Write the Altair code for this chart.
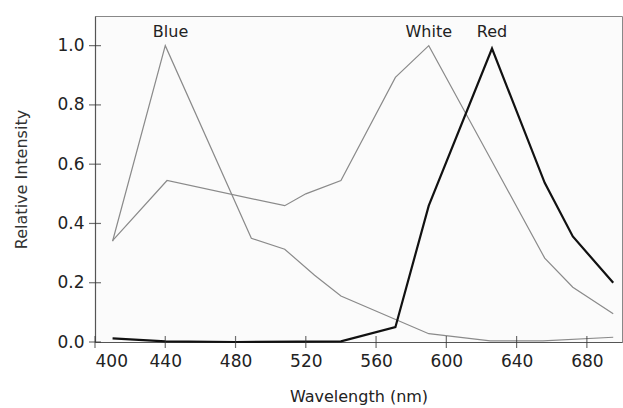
import altair as alt
import pandas as pd

# Series data (wavelength nm, relative intensity)
blue_wl = [410, 440, 489, 508, 525, 540, 590, 625, 655, 695]
blue_val = [0.34, 1.0, 0.35, 0.313, 0.225, 0.155, 0.028, 0.004, 0.004, 0.016]

white_wl = [410, 441, 508, 520, 540, 571, 590, 625, 656, 672, 695]
white_val = [0.342, 0.545, 0.46, 0.5, 0.545, 0.893, 1.0, 0.62, 0.283, 0.185, 0.095]

red_wl = [410, 440, 480, 540, 571, 590, 626, 656, 672, 695]
red_val = [0.012, 0.002, 0.0, 0.002, 0.05, 0.46, 0.99, 0.537, 0.356, 0.2]

x_ticks = [400, 440, 480, 520, 560, 600, 640, 680]
y_ticks = [0.0, 0.2, 0.4, 0.6, 0.8, 1.0]

label_names = ["Blue", "White", "Red"]
label_wl = [443, 590, 626]
label_val = [1.0, 1.0, 1.0]

FONT = "DejaVu Sans"

rows = []
for name, wl, val in [("Blue", blue_wl, blue_val), ("White", white_wl, white_val), ("Red", red_wl, red_val)]:
    for w, v in zip(wl, val):
        rows.append({"series": name, "wl": w, "val": v})
df = pd.DataFrame(rows)

xs = alt.Scale(domain=[400, 700], nice=False, zero=False)
ys = alt.Scale(domain=[0, 1.1], nice=False)

xax = alt.Axis(values=x_ticks, ticks=False, grid=False, domainColor="#555", domainWidth=1.2,
               labelFont=FONT, labelFontSize=17, labelColor="#222", labelPadding=11,
               title="Wavelength (nm)", titleFont=FONT, titleFontSize=16, titleFontWeight="normal",
               titleColor="#222", titlePadding=19)
yax = alt.Axis(values=y_ticks, format=".1f", ticks=False, grid=False, domainColor="#555", domainWidth=1.2,
               labelFont=FONT, labelFontSize=17, labelColor="#222", labelPadding=11,
               title="Relative Intensity", titleFont=FONT, titleFontSize=16, titleFontWeight="normal",
               titleColor="#333", titlePadding=27)

base = alt.Chart(df)

thin = base.transform_filter(alt.datum.series != "Red").mark_line(color="#8a8a8a", strokeWidth=1.2).encode(
    x=alt.X("wl:Q", scale=xs, axis=xax),
    y=alt.Y("val:Q", scale=ys, axis=yax),
    detail="series:N",
)
red = base.transform_filter(alt.datum.series == "Red").mark_line(color="#111", strokeWidth=2.2).encode(
    x=alt.X("wl:Q", scale=xs),
    y=alt.Y("val:Q", scale=ys),
)

lab_df = pd.DataFrame({"name": label_names, "wl": label_wl, "val": label_val})
labels = alt.Chart(lab_df).mark_text(font=FONT, fontSize=16, color="#222", dy=-14, baseline="middle").encode(
    x=alt.X("wl:Q", scale=xs),
    y=alt.Y("val:Q", scale=ys),
    text="name:N",
)

xt_df = pd.DataFrame({"t": x_ticks})
xticks = alt.Chart(xt_df).mark_tick(color="#333", thickness=1.2, size=12, orient="vertical").encode(
    x=alt.X("t:Q", scale=xs),
    y=alt.value(326),
)
yt_df = pd.DataFrame({"t": y_ticks})
yticks = alt.Chart(yt_df).mark_tick(color="#333", thickness=1.2, size=12, orient="horizontal").encode(
    y=alt.Y("t:Q", scale=ys),
    x=alt.value(0),
)

chart = alt.layer(thin, red, labels, xticks, yticks).properties(
    width=527, height=326,
    autosize=alt.AutoSizeParams(type="none"),
    padding={"left": 95, "top": 16, "right": 1, "bottom": 66},
    background="white",
).configure_view(fill="#fbfbfb", stroke="#888", strokeWidth=1)

chart.save("out.html", embed_options={"renderer": "svg", "actions": False})
